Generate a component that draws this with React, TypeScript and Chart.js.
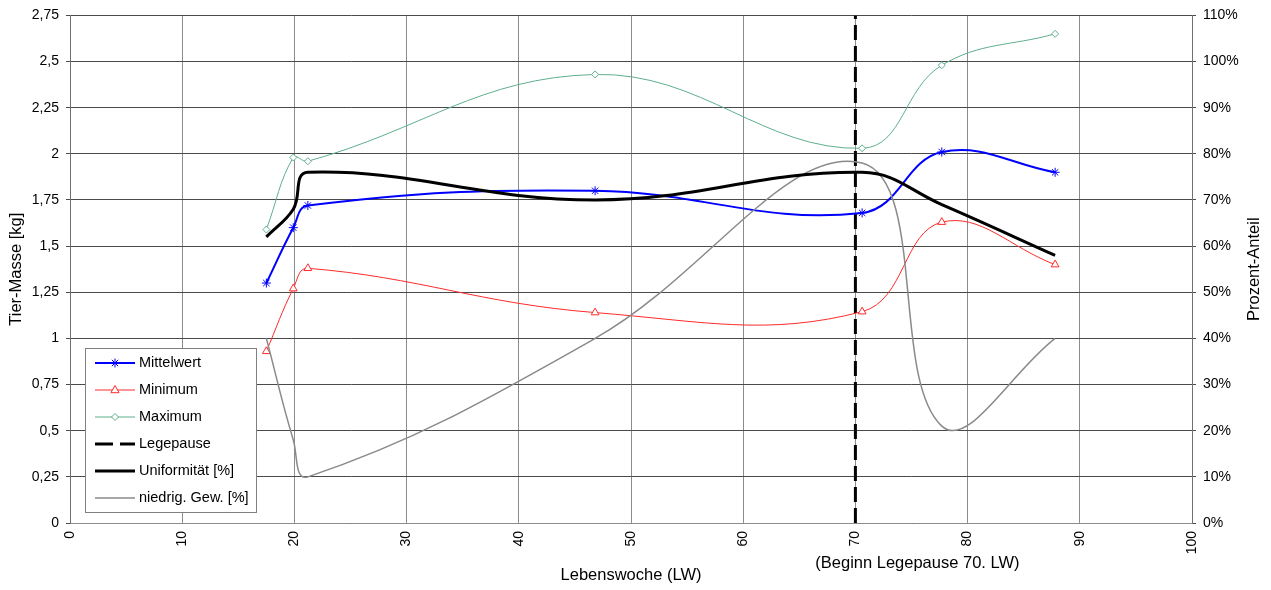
import React, { useEffect, useRef } from 'react';
import { Chart, registerables } from 'chart.js';

Chart.register(...registerables);

// ---- data ----
const weeks = [17.5, 19.9, 21.2, 46.8, 70.6, 77.7, 87.8];
const mittelwert = [1.3, 1.6, 1.72, 1.8, 1.68, 2.01, 1.9];
const minimum = [0.93, 1.27, 1.38, 1.14, 1.145, 1.63, 1.4];
const maximum = [1.59, 1.98, 1.96, 2.43, 2.03, 2.48, 2.65];
const uniformitaet = [62, 68, 76, 70, 76, 69, 58];
const niedrigGew = [40, 18, 10, 40, 78, 21, 40];
const legepauseWeek = 70;
const legepauseSpan = [0, 2.75];

const seriesNames = ['Mittelwert', 'Minimum', 'Maximum', 'Legepause', 'Uniformität [%]', 'niedrig. Gew. [%]'];
const xTitle = 'Lebenswoche (LW)';
const xNote = '(Beginn Legepause 70. LW)';
const yTitle = 'Tier-Masse [kg]';
const y1Title = 'Prozent-Anteil';

const FONT = 'Arial, "Liberation Sans", sans-serif';

const BLUE = '#0000ff';
const RED = '#ff2a2a';
const GREEN = '#5fae8c';
const GREY = '#8a8a8a';

function drawStar(ctx: CanvasRenderingContext2D, x: number, y: number, r: number) {
  ctx.beginPath();
  ctx.moveTo(x - r, y); ctx.lineTo(x + r, y);
  ctx.moveTo(x, y - r); ctx.lineTo(x, y + r);
  const d = r * 0.707;
  ctx.moveTo(x - d, y - d); ctx.lineTo(x + d, y + d);
  ctx.moveTo(x - d, y + d); ctx.lineTo(x + d, y - d);
  ctx.stroke();
}
function drawTri(ctx: CanvasRenderingContext2D, x: number, y: number, r: number) {
  ctx.beginPath();
  ctx.moveTo(x, y - r);
  ctx.lineTo(x + r * 0.9, y + r * 0.6);
  ctx.lineTo(x - r * 0.9, y + r * 0.6);
  ctx.closePath();
  ctx.fillStyle = '#fff';
  ctx.fill();
  ctx.stroke();
}
function drawDiamond(ctx: CanvasRenderingContext2D, x: number, y: number, r: number) {
  ctx.beginPath();
  ctx.moveTo(x, y - r); ctx.lineTo(x + r, y); ctx.lineTo(x, y + r); ctx.lineTo(x - r, y);
  ctx.closePath();
  ctx.fillStyle = '#fff';
  ctx.fill();
  ctx.stroke();
}

const legendPlugin = {
  id: 'customLegend',
  afterDatasetsDraw(chart: any) {
    const ctx: CanvasRenderingContext2D = chart.ctx;
    ctx.save();
    const bx = 85.5, by = 348.5, bw = 171, bh = 164;
    ctx.fillStyle = '#fff';
    ctx.fillRect(bx, by, bw, bh);
    ctx.strokeStyle = '#808080';
    ctx.lineWidth = 1;
    ctx.strokeRect(bx, by, bw, bh);
    const rows = [363, 390, 417, 444, 471, 498];
    const x0 = 95, x1 = 135, xm = 115;
    const styles = [
      { c: BLUE, w: 2, dash: [] as number[], m: 'star' },
      { c: RED, w: 1, dash: [], m: 'tri' },
      { c: GREEN, w: 1, dash: [], m: 'dia' },
      { c: '#000', w: 3, dash: [18, 7], m: '' },
      { c: '#000', w: 3, dash: [], m: '' },
      { c: GREY, w: 1.5, dash: [], m: '' },
    ];
    styles.forEach((s, i) => {
      const y = rows[i];
      ctx.strokeStyle = s.c;
      ctx.lineWidth = s.w;
      ctx.setLineDash(s.dash);
      ctx.beginPath();
      ctx.moveTo(x0, y);
      ctx.lineTo(x1, y);
      ctx.stroke();
      ctx.setLineDash([]);
      ctx.lineWidth = 1;
      if (s.m === 'star') drawStar(ctx, xm, y, 4.5);
      if (s.m === 'tri') drawTri(ctx, xm, y, 4.5);
      if (s.m === 'dia') drawDiamond(ctx, xm, y, 3.5);
      ctx.fillStyle = '#000';
      ctx.font = '14.5px ' + FONT;
      ctx.textAlign = 'left';
      ctx.textBaseline = 'middle';
      ctx.fillText(seriesNames[i], 139, y);
    });
    ctx.restore();
  },
};

const textPlugin = {
  id: 'axisTexts',
  afterDraw(chart: any) {
    const ctx: CanvasRenderingContext2D = chart.ctx;
    const area = chart.chartArea;
    const midY = (area.top + area.bottom) / 2;
    ctx.save();
    ctx.fillStyle = '#000';
    ctx.font = '16.5px ' + FONT;
    ctx.textAlign = 'center';
    ctx.textBaseline = 'middle';
    ctx.fillText(xTitle, (area.left + area.right) / 2, 575);
    const xs = chart.scales.x;
    ctx.fillText(xNote, xs.getPixelForValue(legepauseWeek) + 62, 563);
    ctx.save();
    ctx.translate(16, midY);
    ctx.rotate(-Math.PI / 2);
    ctx.fillText(yTitle, 0, 0);
    ctx.restore();
    ctx.save();
    ctx.translate(1254, midY);
    ctx.rotate(-Math.PI / 2);
    ctx.fillText(y1Title, 0, 0);
    ctx.restore();
    ctx.restore();
  },
};

export default function App() {
  const ref = useRef<HTMLCanvasElement>(null);
  useEffect(() => {
    if (!ref.current) return;
    Chart.defaults.font.family = FONT;
    Chart.defaults.font.size = 14;
    Chart.defaults.color = '#000';
    const pts = (ys: number[]) => weeks.map((x, i) => ({ x, y: ys[i] }));
    const chart = new Chart(ref.current, {
      type: 'line',
      data: {
        datasets: [
          {
            label: seriesNames[4], data: pts(uniformitaet), yAxisID: 'y1',
            borderColor: '#000', borderWidth: 3, pointRadius: 0, tension: 0.4,
          },
          {
            label: seriesNames[5], data: pts(niedrigGew), yAxisID: 'y1',
            borderColor: GREY, borderWidth: 1.5, pointRadius: 0, tension: 0.4,
          },
          {
            label: seriesNames[2], data: pts(maximum), yAxisID: 'y',
            borderColor: GREEN, borderWidth: 1, pointStyle: 'rectRot', pointRadius: 3.5,
            pointBorderColor: GREEN, pointBackgroundColor: '#fff', pointBorderWidth: 1, tension: 0.4,
          },
          {
            label: seriesNames[1], data: pts(minimum), yAxisID: 'y',
            borderColor: RED, borderWidth: 1, pointStyle: 'triangle', pointRadius: 4.5,
            pointBorderColor: RED, pointBackgroundColor: '#fff', pointBorderWidth: 1, tension: 0.4,
          },
          {
            label: seriesNames[0], data: pts(mittelwert), yAxisID: 'y',
            borderColor: BLUE, borderWidth: 2, pointStyle: 'star', pointRadius: 4.5,
            pointBorderColor: BLUE, pointBorderWidth: 1, tension: 0.4,
          },
          {
            label: seriesNames[3],
            data: legepauseSpan.map((y) => ({ x: legepauseWeek, y })), yAxisID: 'y',
            borderColor: '#000', borderWidth: 3, borderDash: [15, 6], pointRadius: 0, tension: 0,
          },
        ],
      },
      options: {
        animation: false,
        responsive: false,
        layout: { padding: { top: 14, left: 0, right: 0, bottom: 0 } },
        plugins: { legend: { display: false }, tooltip: { enabled: false } },
        scales: {
          x: {
            type: 'linear', min: 0, max: 100,
            ticks: { stepSize: 10, autoSkip: false, minRotation: 90, maxRotation: 90, padding: 8 },
            grid: { color: '#8c8c8c', lineWidth: 1, drawTicks: false },
            border: { color: '#8c8c8c' },
            afterFit: (s: any) => { s.height = 67; },
          },
          y: {
            position: 'left', min: 0, max: 2.75,
            ticks: { stepSize: 0.25, padding: 7, callback: (v: any) => String(v).replace('.', ',') },
            grid: { color: '#4a4a4a', tickLength: 4 },
            border: { color: '#707070' },
            afterFit: (s: any) => { s.width = 70; },
          },
          y1: {
            position: 'right', min: 0, max: 110,
            ticks: { stepSize: 10, padding: 7, callback: (v: any) => v + '%' },
            grid: { drawOnChartArea: false, tickLength: 4, color: '#4a4a4a' },
            border: { color: '#707070' },
            afterFit: (s: any) => { s.width = 79; },
          },
        },
      } as any,
      plugins: [legendPlugin, textPlugin],
    });
    return () => chart.destroy();
  }, []);
  return (
    <div style={{ position: 'fixed', left: 0, top: 0, width: 1271, height: 590, background: '#fff' }}>
      <canvas ref={ref} width={1271} height={590} style={{ display: 'block' }} />
    </div>
  );
}
